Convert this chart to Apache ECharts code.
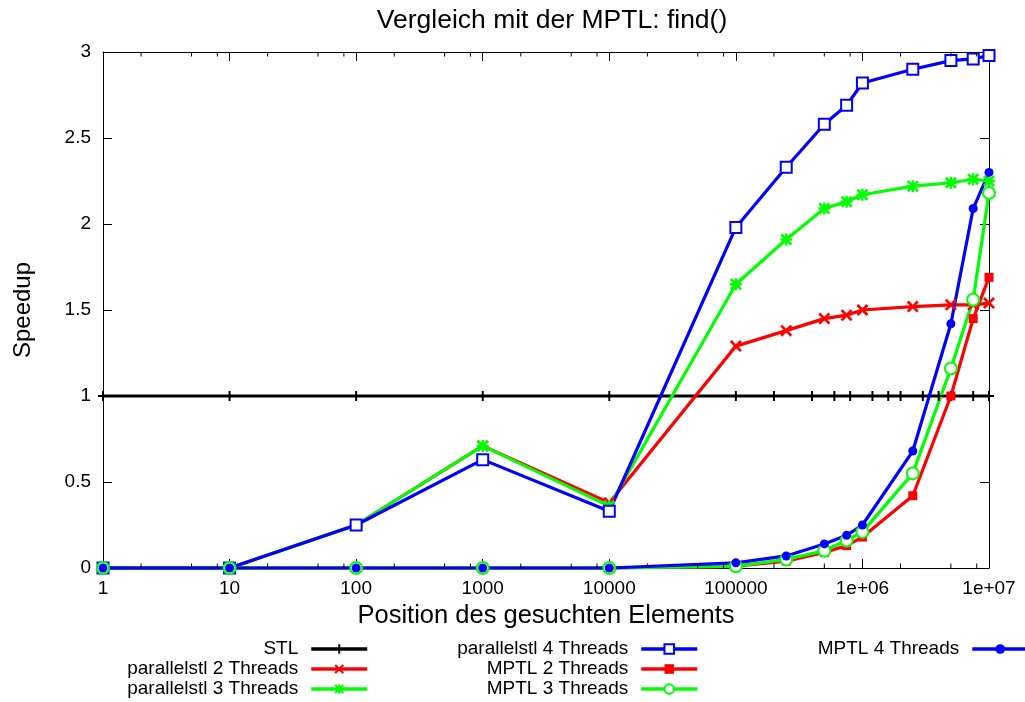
<!DOCTYPE html>
<html>
<head>
<meta charset="utf-8">
<title>Vergleich mit der MPTL: find()</title>
<script src="https://cdn.jsdelivr.net/npm/echarts@6/dist/echarts.min.js"></script>
<style>
  html, body { margin: 0; padding: 0; background: #ffffff; }
  #chart { width: 1025px; height: 702px; }
</style>
</head>
<body>
<div id="chart"></div>
<script>
// Position des gesuchten Elements (x values)
const positions = [1, 10, 100, 1000, 10000, 1e5, 2.5e5, 5e5, 7.5e5, 1e6, 2.5e6, 5e6, 7.5e6, 1e7];
const stlPositions = [1, 10, 100, 1000, 10000, 1e5, 2e5, 4e5, 6e5, 8e5, 1.2e6, 1.6e6, 2e6, 3e6, 4e6, 5e6, 7.5e6, 1e7];

// Speedup values
const stl         = [1, 1, 1, 1, 1, 1, 1, 1, 1, 1, 1, 1, 1, 1, 1, 1, 1, 1];
const parallel2   = [0, 0, 0.25, 0.71, 0.38, 1.29, 1.38, 1.45, 1.47, 1.50, 1.52, 1.53, 1.53, 1.54];
const parallel3   = [0, 0, 0.25, 0.71, 0.36, 1.65, 1.91, 2.09, 2.13, 2.17, 2.22, 2.24, 2.26, 2.25];
const parallel4   = [0, 0, 0.25, 0.63, 0.33, 1.98, 2.33, 2.58, 2.69, 2.82, 2.90, 2.95, 2.96, 2.98];
const mptl2       = [0, 0, 0, 0, 0, 0.01, 0.04, 0.09, 0.13, 0.18, 0.42, 1.00, 1.45, 1.69];
const mptl3       = [0, 0, 0, 0, 0, 0.01, 0.05, 0.10, 0.16, 0.21, 0.55, 1.16, 1.56, 2.18];
const mptl4       = [0, 0, 0, 0, 0, 0.03, 0.07, 0.14, 0.19, 0.25, 0.68, 1.42, 2.09, 2.30];

// Axis ticks
const yMin = 0, yMax = 3, yStep = 0.5;
const xMin = 1, xMax = 1e7;
const minorMultiples = [2, 5, 8];
const decades = [1, 10, 100, 1000, 10000, 1e5, 1e6];

const FONT = "'Liberation Sans', Arial, Helvetica, sans-serif";

// Point symbols
const PLUS = 'path://M4,0L6,0L6,4L10,4L10,6L6,6L6,10L4,10L4,6L0,6L0,4L4,4Z';
const CROSS = 'path://M0,1.6L1.6,0L5,3.4L8.4,0L10,1.6L6.6,5L10,8.4L8.4,10L5,6.6L1.6,10L0,8.4L3.4,5Z';
const STAR = 'path://M4,0L6,0L6,4L10,4L10,6L6,6L6,10L4,10L4,6L0,6L0,4L4,4Z' +
             'M0,1.6L1.6,0L5,3.4L8.4,0L10,1.6L6.6,5L10,8.4L8.4,10L5,6.6L1.6,10L0,8.4L3.4,5Z';

function pairs(xs, ys) {
  return xs.map((x, i) => [x, ys[i]]);
}

function formatPosition(v) {
  if (v >= 1e6) {
    const e = Math.round(Math.log10(v));
    return '1e+' + (e < 10 ? '0' + e : e);
  }
  return String(Math.round(v));
}

const minorTicks = [];
decades.forEach(d => minorMultiples.forEach(m => minorTicks.push([d * m, yMin])));

function lineSeries(name, xs, ys, color, symbol, size, borderWidth) {
  return {
    name: name,
    type: 'line',
    data: pairs(xs, ys),
    symbol: symbol,
    symbolSize: size,
    showAllSymbol: true,
    lineStyle: { color: color, width: 3.2 },
    itemStyle: { color: color, borderColor: color, borderWidth: borderWidth || 0 },
    emphasis: { disabled: true },
    clip: false
  };
}

const legendText = { fontFamily: FONT, fontSize: 19, color: '#000', lineHeight: 20, padding: [0, 8, 0, 0] };
function legendBlock(names, right) {
  return {
    data: names,
    orient: 'vertical',
    align: 'right',
    right: right,
    top: 639,
    padding: 0,
    itemGap: 0,
    itemWidth: 56,
    itemHeight: 12,
    selectedMode: false,
    lineStyle: { width: 3.5 },
    textStyle: legendText
  };
}

const chart = echarts.init(document.getElementById('chart'), null, { renderer: 'canvas' });

chart.setOption({
  animation: false,
  backgroundColor: '#ffffff',
  title: {
    text: 'Vergleich mit der MPTL: find()',
    left: 552,
    top: 7,
    padding: 0,
    textAlign: 'center',
    textStyle: { fontFamily: FONT, fontSize: 26.5, fontWeight: 'normal', color: '#000' }
  },
  legend: [
    legendBlock(['STL', 'parallelstl 2 Threads', 'parallelstl 3 Threads'], 656),
    legendBlock(['parallelstl 4 Threads', 'MPTL 2 Threads', 'MPTL 3 Threads'], 326),
    legendBlock(['MPTL 4 Threads'], -5)
  ],
  grid: { left: 103, right: 36, top: 52, bottom: 134, containLabel: false },
  xAxis: [
    {
      type: 'log',
      logBase: 10,
      min: xMin,
      max: xMax,
      position: 'bottom',
      name: 'Position des gesuchten Elements',
      nameLocation: 'middle',
      nameGap: 33,
      nameTextStyle: { fontFamily: FONT, fontSize: 25.5, color: '#000' },
      axisLine: { show: true, onZero: false, lineStyle: { color: '#000', width: 1 } },
      axisTick: { show: true, inside: true, length: 9, lineStyle: { color: '#000', width: 1 } },
      axisLabel: { fontFamily: FONT, fontSize: 19, color: '#000', margin: 11, formatter: formatPosition, showMinLabel: true, showMaxLabel: true },
      splitLine: { show: false },
      minorTick: { show: false }
    },
    {
      type: 'log',
      logBase: 10,
      min: xMin,
      max: xMax,
      position: 'top',
      axisLine: { show: true, onZero: false, lineStyle: { color: '#000', width: 1 } },
      axisTick: { show: true, inside: true, length: 9, lineStyle: { color: '#000', width: 1 } },
      axisLabel: { show: false },
      splitLine: { show: false }
    }
  ],
  yAxis: [
    {
      type: 'value',
      min: yMin,
      max: yMax,
      interval: yStep,
      position: 'left',
      name: 'Speedup',
      nameLocation: 'middle',
      nameGap: 68,
      nameTextStyle: { fontFamily: FONT, fontSize: 24, color: '#000' },
      axisLine: { show: true, onZero: false, lineStyle: { color: '#000', width: 1 } },
      axisTick: { show: true, inside: true, length: 9, lineStyle: { color: '#000', width: 1 } },
      axisLabel: { fontFamily: FONT, fontSize: 19, color: '#000', margin: 12 },
      splitLine: { show: false }
    },
    {
      type: 'value',
      min: yMin,
      max: yMax,
      interval: yStep,
      position: 'right',
      axisLine: { show: true, onZero: false, lineStyle: { color: '#000', width: 1 } },
      axisTick: { show: true, inside: true, length: 9, lineStyle: { color: '#000', width: 1 } },
      axisLabel: { show: false },
      splitLine: { show: false }
    }
  ],
  series: [
    // short minor ticks at 2, 5 and 8 of every decade, bottom and top border
    {
      type: 'custom',
      silent: true,
      xAxisIndex: 0,
      yAxisIndex: 0,
      data: minorTicks,
      clip: false,
      z: 10,
      renderItem: function (params, api) {
        const x = api.value(0);
        const b = api.coord([x, yMin]);
        const t = api.coord([x, yMax]);
        const style = { stroke: '#000', lineWidth: 1 };
        return {
          type: 'group',
          children: [
            { type: 'line', shape: { x1: b[0], y1: b[1], x2: b[0], y2: b[1] - 4.5 }, style: style },
            { type: 'line', shape: { x1: t[0], y1: t[1], x2: t[0], y2: t[1] + 4.5 }, style: style }
          ]
        };
      }
    },
    lineSeries('STL', stlPositions, stl, '#000000', PLUS, 10),
    lineSeries('parallelstl 2 Threads', positions, parallel2, '#ff0000', CROSS, 12),
    lineSeries('parallelstl 3 Threads', positions, parallel3, '#00ff00', STAR, 12),
    lineSeries('parallelstl 4 Threads', positions, parallel4, '#0000ff', 'emptyRect', 11, 2.5),
    lineSeries('MPTL 2 Threads', positions, mptl2, '#ff0000', 'rect', 9),
    lineSeries('MPTL 3 Threads', positions, mptl3, '#00ff00', 'emptyCircle', 12, 2.5),
    lineSeries('MPTL 4 Threads', positions, mptl4, '#0000ff', 'circle', 9)
  ]
});
</script>
</body>
</html>
